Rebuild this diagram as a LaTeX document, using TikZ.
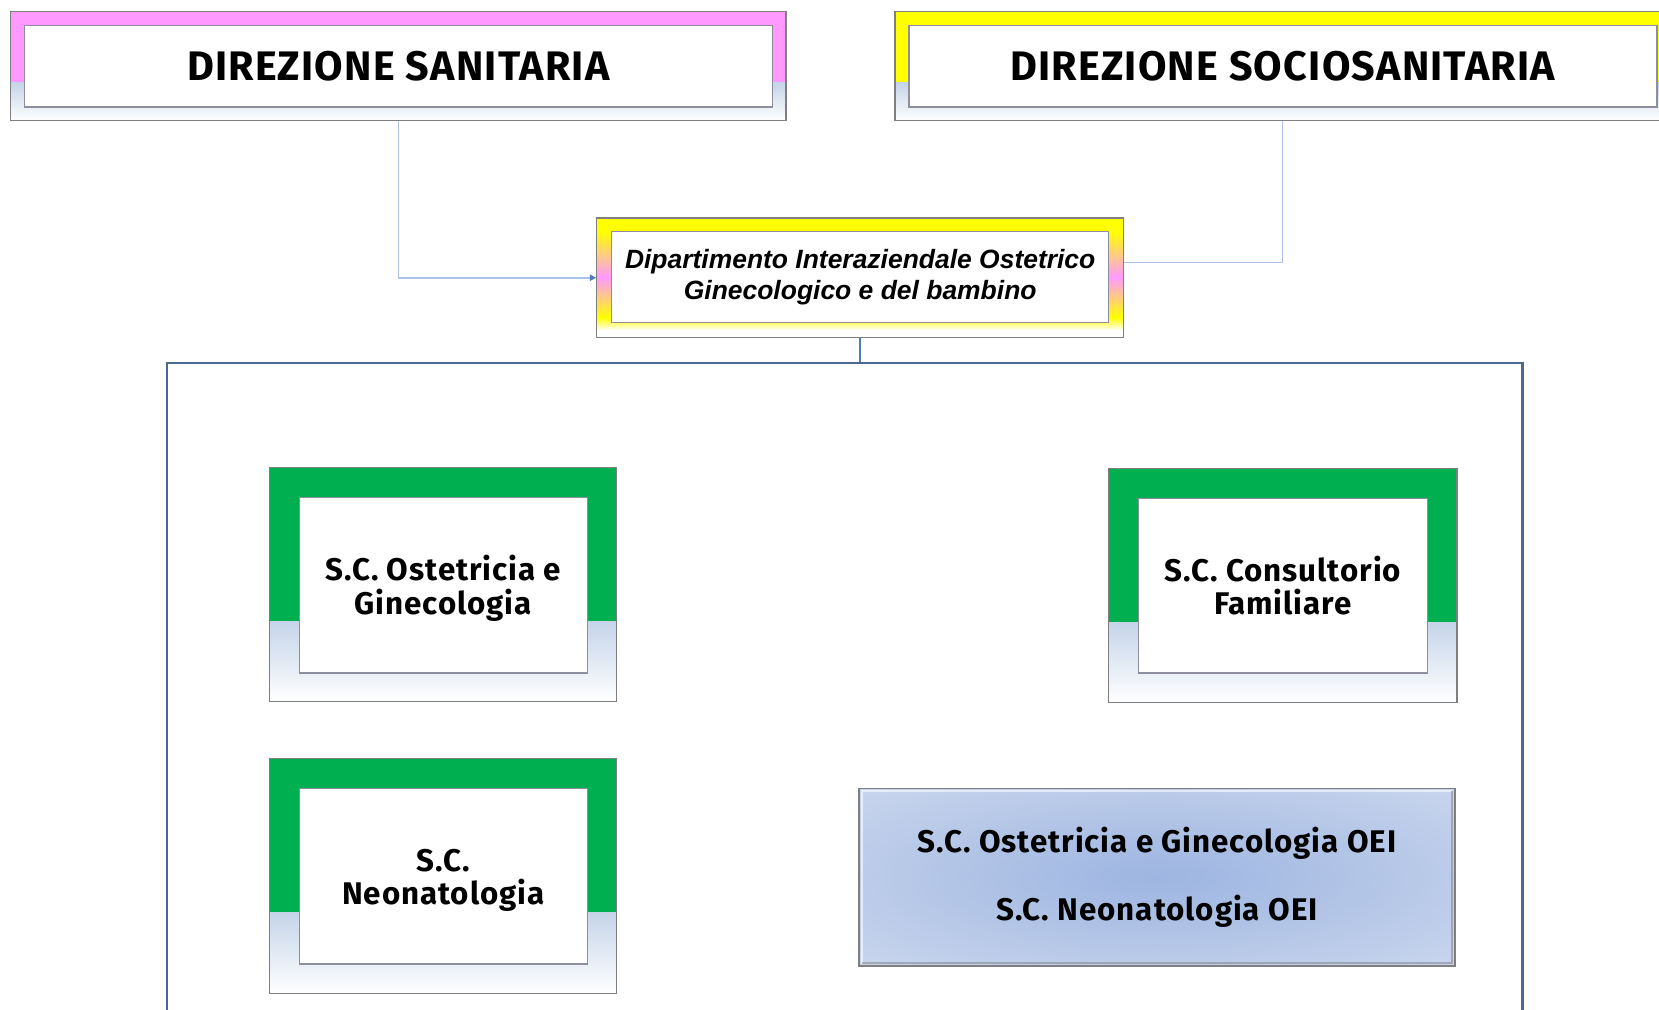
\documentclass[tikz,border=0pt]{standalone}
\usepackage{fontspec}
\setmainfont{Liberation Sans}
\newfontfamily\comicf{Fira Sans}[LetterSpace=3]
\usetikzlibrary{fit,arrows.meta,calc}
\definecolor{pinkb}{HTML}{FF99FF}
\definecolor{yelb}{HTML}{FFFF00}
\definecolor{bgray}{HTML}{C5D4E9}
\definecolor{greenb}{HTML}{00B050}
\definecolor{framegray}{HTML}{7F7F7F}
\definecolor{innergray}{HTML}{8E8E9E}
\definecolor{conlight}{HTML}{A9C4E6}
\definecolor{condark}{HTML}{4F7CB8}
\definecolor{bigline}{HTML}{4A6890}
\definecolor{bluein}{HTML}{9DB5E1}
\definecolor{blueout}{HTML}{DDE4F2}
\pgfdeclareradialshading{bluerad}{\pgfpoint{0bp}{0bp}}{color(0bp)=(bluein); color(52bp)=(blueout); color(75bp)=(blueout)}
\begin{document}
\begin{tikzpicture}[x=0.5pt,y=-0.5pt,
  outerbox/.style={inner sep=0pt, draw=framegray, line width=0.6pt},
  innerbox/.style={inner sep=0pt, fill=white, draw=innergray, line width=0.6pt},
  headtext/.style={font=\comicf\bfseries\fontsize{19.5}{23}\selectfont, align=center},
  unittext/.style={font=\comicf\bfseries\fontsize{14.8}{16}\selectfont, align=center},
  depttext/.style={font=\bfseries\itshape\fontsize{12.5}{14.5}\selectfont, align=center},
  lightcon/.style={draw=conlight, line width=0.8pt},
  darkcon/.style={draw=condark, line width=0.7pt}]
\useasboundingbox (0,0) rectangle (1568,954);
\fill[white] (0,0) rectangle (1568,954);

% DIREZIONE SANITARIA
\fill[pinkb] (10,11) rectangle (743,78);
\shade[top color=bgray, bottom color=white] (10,78) rectangle (743,114);
\node[outerbox, fit={(10,11) (743,114)}] (ds) {};
\node[innerbox, fit={(23,24) (730,101)}] (dsin) {};
\node[headtext] (dstext) at (dsin.center) {DIREZIONE SANITARIA};

% DIREZIONE SOCIOSANITARIA
\fill[yelb] (846,11) rectangle (1578,78);
\shade[top color=bgray, bottom color=white] (846,78) rectangle (1578,114);
\node[outerbox, fit={(846,11) (1578,114)}] (dss) {};
\node[innerbox, fit={(859,24) (1566,101)}] (dssin) {};
\node[headtext] (dsstext) at (dssin.center) {DIREZIONE SOCIOSANITARIA};

% Dipartimento
\fill[yelb] (564,206) rectangle (1062,219);
\shade[top color=yelb, bottom color=pinkb] (564,219) rectangle (1062,262);
\shade[top color=pinkb, bottom color=yelb] (564,262) rectangle (1062,300);
\shade[top color=yelb, bottom color=white] (564,300) rectangle (1062,312);
\node[outerbox, fit={(564,206) (1062,319)}] (dip) {};
\node[innerbox, fit={(578,219) (1048,305)}] (dipin) {};
\node[depttext] (diptext) at (dipin.center) {Dipartimento Interaziendale Ostetrico\\Ginecologico e del bambino};

% big frame
\node[inner sep=0pt, draw=bigline, line width=1pt, fit={(158,343) (1439,980)}] (big) {};

% green box 1
\fill[greenb] (255,442) rectangle (583,587);
\shade[top color=bgray, bottom color=white] (255,587) rectangle (583,663);
\node[outerbox, fit={(255,442) (583,663)}] (g1) {};
\node[innerbox, fit={(283,470) (555,636)}] (g1in) {};
\node[unittext] (g1text) at ([yshift=-1.5pt]g1in.center) {S.C. Ostetricia e\\Ginecologia};

% green box 2
\fill[greenb] (1048,443) rectangle (1377,588);
\shade[top color=bgray, bottom color=white] (1048,588) rectangle (1377,664);
\node[outerbox, fit={(1048,443) (1377,664)}] (g2) {};
\node[innerbox, fit={(1076,471) (1349,636)}] (g2in) {};
\node[unittext] (g2text) at (g2in.center) {S.C. Consultorio\\Familiare};

% green box 3
\fill[greenb] (255,717) rectangle (583,862);
\shade[top color=bgray, bottom color=white] (255,862) rectangle (583,939);
\node[outerbox, fit={(255,717) (583,939)}] (g3) {};
\node[innerbox, fit={(283,745) (555,911)}] (g3in) {};
\node[unittext] (g3text) at ([yshift=-2pt]g3in.center) {S.C.\\Neonatologia};

% blue box
\shade[shading=bluerad] (812,745) rectangle (1375,913);
\draw[white, opacity=0.6, line width=1pt] (815,911) -- (815,748) -- (1372,748);
\draw[framegray, opacity=0.5, line width=1pt] (815,910) -- (1372,910) -- (1372,748);
\node[inner sep=0pt, draw=framegray, line width=0.7pt, fit={(812,745) (1375,913)}] (ob) {};
\node[unittext] (obtext) at (ob.center) {S.C. Ostetricia e Ginecologia OEI\\[16pt]S.C. Neonatologia OEI};

% connectors
\draw[lightcon, arrows={-{Triangle[length=3pt,width=3pt,color=condark]}}] (ds.south) |- (dip.west);
\draw[lightcon] (dss.south) |- ([yshift=7.25pt]dip.east);
\draw[darkcon] (dip.south) -- (dip.south |- big.north);
\end{tikzpicture}
\end{document}
